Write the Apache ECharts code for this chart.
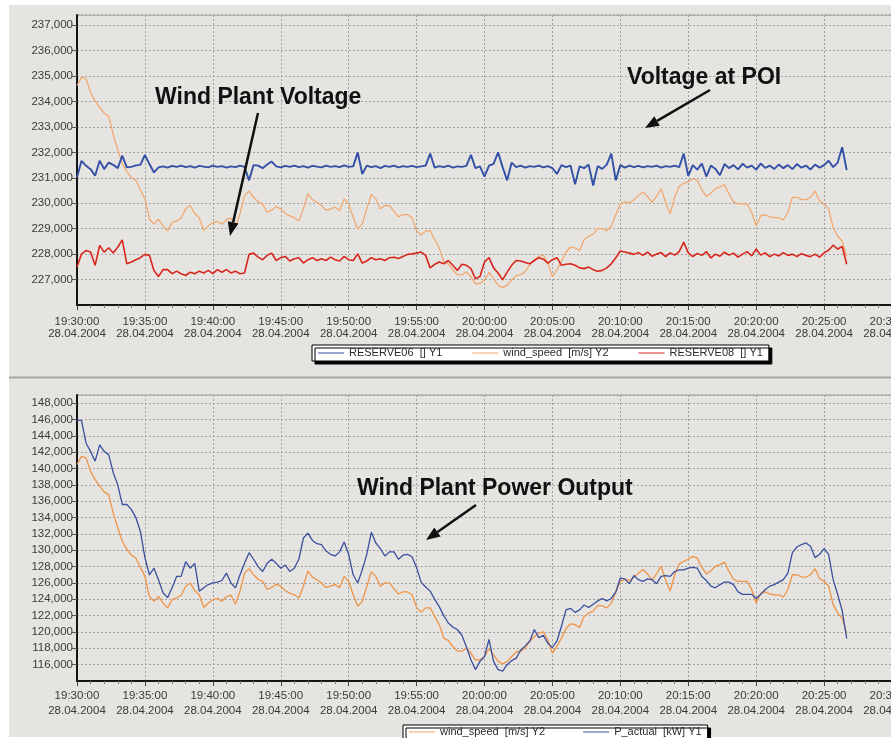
<!DOCTYPE html>
<html>
<head>
<meta charset="utf-8">
<script src="https://cdn.jsdelivr.net/npm/echarts@6/dist/echarts.min.js"></script>
<style>
  html, body { margin: 0; padding: 0; background: #ffffff; }
  #panel { position: absolute; left: 9px; top: 5px; width: 882px; height: 732px; background: #e5e4e1; }
  #chart { position: absolute; left: 0; top: 0; width: 891px; height: 738px; }
</style>
</head>
<body>
<div id="panel"></div>
<div id="chart"></div>
<script>
// Recording of 28.04.2004, sampled every 20 s starting 19:30:00
const recordDate = '28.04.2004';
const startClockSeconds = 19 * 3600 + 30 * 60;
const stepSeconds = 20;
const axisSpanSeconds = 3600;   // x axis: 19:30:00 .. 20:30:00
const tickSeconds = 300;        // one tick every 5 minutes

// Upper panel, Y1: voltage at the point of interconnection
const reserve06 = [
  231020, 231670, 231470, 231340, 231080, 231670, 231340, 231600, 231510, 231380,
  231870, 231410, 231430, 231490, 231510, 231900, 231540, 231210, 231410, 231450,
  231400, 231470, 231430, 231480, 231420, 231460, 231400, 231470, 231440, 231410,
  231480, 231430, 231460, 231400, 231450, 231420, 231480, 231430, 230900, 231500,
  231480, 231380, 231520, 231640, 231450, 231410, 231470, 231430, 231480, 231420,
  231460, 231400, 231470, 231440, 231410, 231480, 231430, 231460, 231420, 231490,
  231430, 231450, 232000, 231150, 231480, 231420, 231460, 231380, 231470, 231430,
  231480, 231410, 231460, 231430, 231470, 231420, 231450, 231480, 231950, 231400,
  231460, 231420, 231480, 231400, 231450, 231430, 231470, 231900, 231380, 231450,
  231050, 231480, 231550, 232000, 231420, 230900, 231600, 231420, 231480, 231400,
  231460, 231430, 231480, 231410, 231460, 231380, 231150, 231500, 231420, 231480,
  230750, 231450, 231380, 231520, 230700, 231460, 231350, 231520, 231950, 230900,
  231500, 231400, 231480, 231420, 231470, 231410, 231460, 231430, 231480, 231400,
  231460, 231430, 231480, 231420, 231950, 231080, 231500, 231320, 231560, 231050,
  231480, 231350, 231100, 231540, 231380, 231500, 231330, 231550, 231400, 231480,
  231320, 231560, 231390, 231480, 231350, 231520, 231380, 231500, 231340, 231540,
  231400, 231480, 231330, 231520, 231400, 231500, 231670, 231420, 231600, 232200,
  231300
];

// Upper panel, Y1: wind plant voltage
const reserve08 = [
  227490, 228010, 228140, 228080, 227560, 228340, 228080, 228250, 228040, 228270,
  228560, 227620, 227690, 227780, 227860, 227990, 227950, 227360, 227120, 227390,
  227390, 227230, 227330, 227230, 227160, 227290, 227230, 227330, 227260, 227360,
  227230, 227390, 227290, 227390, 227260, 227330, 227230, 227260, 227990, 228040,
  227880, 227780, 227950, 228040, 227750, 227860, 227910, 227730, 227820, 227860,
  227650, 227780, 227860, 227750, 227820, 227750, 227880, 227780, 227730, 227910,
  227780, 227750, 228010, 227650, 227730, 227860, 227780, 227820, 227750, 227860,
  227880, 227830, 227910, 227990, 228010, 228040, 228080, 227950, 227460, 227600,
  227690, 227620, 227750, 227560, 227360, 227600, 227560, 227430, 227030, 227120,
  227690, 227860, 227460, 227260, 226990, 227290, 227560, 227750, 227730, 227670,
  227620, 227750, 227860, 227800, 227650, 227780, 227860, 227560, 227600, 227620,
  227560, 227460, 227430, 227490, 227390, 227330, 227360, 227460, 227620, 227860,
  228120, 228080, 228040, 227990, 228060, 227950, 228080, 227920, 228000, 228060,
  227900, 228050, 227960, 228100, 228470, 228050, 227900, 228030, 227950, 228100,
  227850, 228000, 227920, 228080, 227960, 228040, 227880, 228000, 228100, 227930,
  228200, 227960, 228050, 227900, 228000, 227930, 228060, 227950, 228000, 227900,
  228020, 227950, 227900, 228000, 227880, 228050, 228150, 228350, 228200, 228300,
  227600
];

// Both panels, Y2: wind speed in m/s
const windSpeed = [
  11.30, 11.50, 11.46, 11.13, 10.93, 10.77, 10.63, 10.56, 10.11, 9.75,
  9.42, 9.22, 9.08, 9.01, 8.78, 8.56, 8.07, 7.95, 8.07, 7.91,
  7.79, 7.99, 8.03, 8.10, 8.32, 8.40, 8.21, 8.11, 7.80, 7.91,
  7.99, 8.02, 7.95, 8.06, 8.10, 7.88, 8.20, 8.64, 8.75, 8.60,
  8.49, 8.44, 8.24, 8.29, 8.37, 8.32, 8.21, 8.15, 8.11, 8.03,
  8.32, 8.69, 8.54, 8.48, 8.40, 8.29, 8.32, 8.36, 8.28, 8.56,
  8.44, 8.11, 7.83, 7.95, 8.32, 8.67, 8.56, 8.32, 8.40, 8.40,
  8.26, 8.13, 8.18, 8.18, 8.11, 7.79, 7.69, 7.79, 7.79, 7.58,
  7.38, 7.05, 6.99, 6.85, 6.73, 6.73, 6.80, 6.68, 6.51, 6.52,
  6.60, 6.79, 6.64, 6.48, 6.42, 6.48, 6.60, 6.71, 6.73, 6.81,
  6.97, 7.09, 7.17, 7.20, 7.01, 6.68, 6.85, 7.05, 7.28, 7.40,
  7.38, 7.31, 7.58, 7.66, 7.71, 7.85, 7.84, 7.79, 7.90, 8.18,
  8.44, 8.49, 8.46, 8.54, 8.64, 8.73, 8.62, 8.47, 8.62, 8.81,
  8.48, 8.20, 8.60, 8.86, 8.93, 8.98, 9.05, 9.01, 8.78, 8.62,
  8.70, 8.81, 8.85, 8.91, 8.68, 8.49, 8.44, 8.44, 8.44, 8.24,
  7.91, 8.15, 8.18, 8.13, 8.11, 8.11, 8.05, 8.24, 8.60, 8.60,
  8.55, 8.54, 8.60, 8.75, 8.51, 8.44, 8.32, 7.87, 7.66, 7.54,
  7.17
];

// Lower panel, Y1: active power of the wind plant in kW
const pActual = [
  145900, 145900, 143100, 142100, 140900, 142900, 142100, 141700, 139500, 138000,
  135600, 135600, 135000, 134000, 132300, 129100, 127000, 127800, 126400, 124800,
  124200, 125400, 126800, 126800, 128600, 127800, 128400, 125000, 125400, 125800,
  126000, 126100, 126300, 127200, 126000, 125400, 127000, 128400, 129700, 128900,
  128000, 127400, 128400, 128900, 128400, 127800, 128200, 127400, 127800, 128900,
  131500, 132100, 131200, 130800, 130700, 129900, 129500, 129300, 129800, 131000,
  129500, 127000, 126000, 127600, 129500, 132200, 130900, 130200, 129300, 129800,
  129800, 128900, 129400, 129500, 129200, 127900, 126100, 125500, 125000, 124000,
  123100, 122000, 121100, 120600, 120300, 119600, 118200, 116600, 115400, 116400,
  117000, 119100, 116400, 115400, 115200, 116000, 116500, 116800, 117800, 118300,
  118900, 120300, 119300, 119600, 118600, 118100, 118900, 120700, 122700, 122900,
  122400, 122700, 123300, 123000, 123400, 123800, 124100, 123800, 124100, 124900,
  126600, 126500, 125900, 126900, 126400, 126200, 126500, 126400, 125900, 126800,
  126900, 126800, 127400, 127600, 127600, 127800, 127900, 127800, 126800, 126300,
  125600, 125400, 125800, 126100, 126100, 125800, 124900, 124600, 124600, 124600,
  124100, 124600, 125200, 125600, 125800, 126100, 126400, 127200, 129700, 130400,
  130700, 130900, 130500, 129100, 129500, 130200, 129500, 126400, 124600, 122600,
  119200
];

// Axis ranges
const upperVoltageRange = [226000, 237400];
const upperVoltageStep = 1000;
const lowerPowerRange = [114000, 149000];
const lowerPowerStep = 2000;
const windRange = [6, 13];

// Legend captions
const nameV06 = 'RESERVE06  [] Y1';
const nameV08 = 'RESERVE08  [] Y1';
const nameWind = 'wind_speed  [m/s] Y2';
const nameP = 'P_actual  [kW] Y1';

const FONT = '"Liberation Sans", Arial, sans-serif';

function withTime(values) {
  return values.map((v, i) => [i * stepSeconds, v]);
}
function pad2(n) { return (n < 10 ? '0' : '') + n; }
function clockLabel(sec) {
  const s = startClockSeconds + sec;
  const h = Math.floor(s / 3600), m = Math.floor((s % 3600) / 60), r = s % 60;
  return pad2(h) + ':' + pad2(m) + ':' + pad2(r) + '\n' + recordDate;
}
function thousands(v) {
  return String(v).replace(/\B(?=(\d{3})+(?!\d))/g, ',');
}

const gridLine = { show: true, lineStyle: { color: '#a2a2a2', width: 1, type: [2, 2] } };

function timeAxis(gridIndex, labelMargin, lineHeight) {
  return {
    type: 'value', gridIndex: gridIndex,
    min: 0, max: axisSpanSeconds, interval: tickSeconds,
    axisLine: { show: true, onZero: false, lineStyle: { color: '#151515', width: 2 } },
    axisTick: { show: true, length: 5, lineStyle: { color: '#444' } },
    minorTick: { show: true, splitNumber: 5, length: 3, lineStyle: { color: '#777' } },
    axisLabel: {
      margin: labelMargin, formatter: clockLabel, color: '#3a3a3a',
      fontFamily: FONT, fontSize: 11.5, lineHeight: lineHeight,
      showMinLabel: true, showMaxLabel: true, hideOverlap: false
    },
    splitLine: gridLine
  };
}

function valueAxis(gridIndex, range, step) {
  return {
    type: 'value', gridIndex: gridIndex,
    min: range[0], max: range[1], interval: step,
    axisLine: { show: true, onZero: false, lineStyle: { color: '#151515', width: 2 } },
    axisTick: { show: true, length: 5, lineStyle: { color: '#555' } },
    axisLabel: {
      margin: 4, formatter: thousands, color: '#3a3a3a',
      fontFamily: FONT, fontSize: 11.5,
      showMinLabel: false, showMaxLabel: false
    },
    splitLine: gridLine
  };
}

function hiddenAxis(gridIndex) {
  return { type: 'value', gridIndex: gridIndex, min: windRange[0], max: windRange[1], show: false, splitLine: { show: false } };
}

function lineSeries(name, xi, yi, values, color, width) {
  return {
    type: 'line', name: name, xAxisIndex: xi, yAxisIndex: yi,
    data: withTime(values), symbol: 'none', silent: true,
    lineStyle: { color: color, width: width }, itemStyle: { color: color }
  };
}

const legendBase = {
  orient: 'horizontal', icon: 'rect', itemWidth: 26, itemHeight: 1,
  backgroundColor: '#ffffff', borderColor: '#000000', borderWidth: 1,
  shadowColor: '#000000', shadowBlur: 0, shadowOffsetX: 3, shadowOffsetY: 3,
  textStyle: { fontFamily: FONT, fontSize: 11, color: '#2a2a2a', lineHeight: 12 },
  selectedMode: false
};

// Annotation arrow: shaft from tail toward tip, filled head at the tip
function arrow(x1, y1, x2, y2) {
  const a = Math.atan2(y2 - y1, x2 - x1);
  const L = 14, W = 5.5;
  const bx = x2 - L * Math.cos(a), by = y2 - L * Math.sin(a);
  const nx = -Math.sin(a) * W, ny = Math.cos(a) * W;
  return [
    { type: 'line', shape: { x1: x1, y1: y1, x2: bx, y2: by }, style: { stroke: '#111', lineWidth: 2.5 }, z: 100 },
    { type: 'polygon', shape: { points: [[x2, y2], [bx + nx, by + ny], [bx - nx, by - ny]] }, style: { fill: '#111' }, z: 100 }
  ];
}
function caption(text, x, y) {
  return {
    type: 'text', x: x, y: y, z: 100,
    style: { text: text, fill: '#111', font: 'bold 23px ' + FONT, textVerticalAlign: 'middle', textAlign: 'left' }
  };
}

const gridBase = {
  left: 77, width: 815, show: true, borderColor: '#9a9a9a', borderWidth: 1,
  backgroundColor: 'transparent', containLabel: false, outerBoundsMode: 'none'
};

const option = {
  animation: false,
  backgroundColor: 'transparent',
  grid: [
    Object.assign({}, gridBase, { top: 15, height: 290 }),
    Object.assign({}, gridBase, { top: 395, height: 286 })
  ],
  xAxis: [timeAxis(0, 11, 12), timeAxis(1, 7, 15)],
  yAxis: [
    valueAxis(0, upperVoltageRange, upperVoltageStep),
    hiddenAxis(0),
    valueAxis(1, lowerPowerRange, lowerPowerStep),
    hiddenAxis(1)
  ],
  legend: [
    Object.assign({}, legendBase, { left: 312, top: 345, padding: [2, 6, 2, 6], itemGap: 30, data: [nameV06, nameWind, nameV08] }),
    Object.assign({}, legendBase, { left: 403, top: 725, padding: [1, 6, 1, 6], itemGap: 38, data: [nameWind, nameP] })
  ],
  series: [
    lineSeries(nameWind, 0, 1, windSpeed, '#f3a468', 1.2),
    lineSeries(nameV08, 0, 0, reserve08, '#d9261d', 1.6),
    lineSeries(nameV06, 0, 0, reserve06, '#3350a6', 1.9),
    lineSeries(nameWind, 1, 3, windSpeed, '#ef9447', 1.3),
    lineSeries(nameP, 1, 2, pActual, '#3b4f9e', 1.3)
  ],
  graphic: [
    { type: 'line', shape: { x1: 9, y1: 377.5, x2: 891, y2: 377.5 }, style: { stroke: '#a7a7a7', lineWidth: 2 }, z: 50 },
    caption('Wind Plant Voltage', 155, 98),
    caption('Voltage at POI', 627, 78),
    caption('Wind Plant Power Output', 357, 489)
  ].concat(arrow(258, 113, 230, 236), arrow(710, 90, 645, 128), arrow(476, 505, 426, 540))
};

const chart = echarts.init(document.getElementById('chart'), null, { renderer: 'canvas' });
chart.setOption(option);
</script>
</body>
</html>
